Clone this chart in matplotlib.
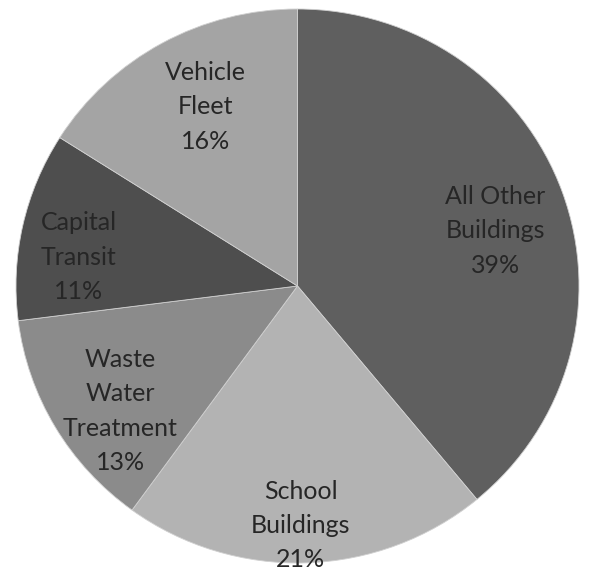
import matplotlib
matplotlib.use("Agg")
import matplotlib.pyplot as plt
import numpy as np

# share of emissions by sector
labels = ["All Other\nBuildings", "School\nBuildings", "Waste\nWater\nTreatment",
          "Capital\nTransit", "Vehicle\nFleet"]
shares = [39, 21, 13, 11, 16]

colors = ["#5f5f5f", "#b3b3b3", "#8b8b8b", "#4e4e4e", "#a4a4a4"]
# label placement as (angle offset from wedge middle in deg, radial distance)
label_pos = [(-4, 0.73), (-1, 0.865), (5, 0.775), (5, 0.785), (-2, 0.725)]

fig = plt.figure(figsize=(5.89, 5.73), dpi=100)
ax = fig.add_axes([0, 0, 1, 1])

wedges, _ = ax.pie(
    shares,
    colors=colors,
    startangle=90,
    counterclock=False,
    radius=1,
    wedgeprops=dict(edgecolor="#d0d0d0", linewidth=0.6),
)

for w, lab, val, (off, d) in zip(wedges, labels, shares, label_pos):
    mid = np.deg2rad((w.theta1 + w.theta2) / 2 + off)
    ax.text(
        d * np.cos(mid),
        d * np.sin(mid),
        f"{lab}\n{val}%",
        ha="center",
        va="center",
        fontsize=18,
        family="Lato",
        color="#262626",
        linespacing=1.6,
    )

# picture is slightly squashed vertically
ax.set_aspect("auto")
ax.set_xlim(-297.5 / 281.5, (589 - 297.5) / 281.5)
ax.set_ylim(-(573 - 286) / 277, 286 / 277)
ax.axis("off")

fig.savefig("out.png", dpi=100, facecolor="white")
